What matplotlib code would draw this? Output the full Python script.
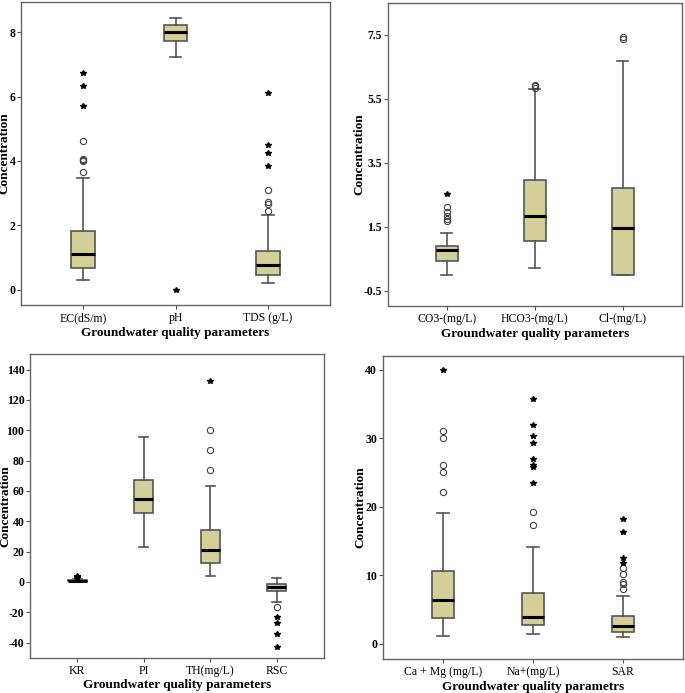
import numpy as np
import matplotlib
matplotlib.use("Agg")
import matplotlib.pyplot as plt

plt.rcParams['font.family'] = ['Liberation Serif', 'DejaVu Serif']

# --- Panel 1: EC, pH, TDS ---
p1_labels = ['EC(dS/m)', 'pH', 'TDS (g/L)']
p1_whislo = [0.29, 7.23, 0.19]
p1_q1 = [0.66, 7.72, 0.45]
p1_med = [1.11, 8.00, 0.75]
p1_q3 = [1.82, 8.21, 1.21]
p1_whishi = [3.48, 8.45, 2.32]
p1_circles = [[3.66, 3.99, 4.03, 4.07, 4.62], [], [2.45, 2.65, 2.72, 3.09]]
p1_stars = [[5.72, 6.32, 6.72], [0.0], [3.83, 4.24, 4.50, 6.11]]

# --- Panel 2: CO3, HCO3, Cl ---
p2_labels = ['CO3-(mg/L)', 'HCO3-(mg/L)', 'Cl-(mg/L)']
p2_whislo = [-0.01, 0.23, 0.0]
p2_q1 = [0.43, 1.05, 0.0]
p2_med = [0.78, 1.84, 1.46]
p2_q3 = [0.91, 2.96, 2.72]
p2_whishi = [1.32, 5.79, 6.69]
p2_circles = [[1.68, 1.76, 1.84, 1.96, 2.12], [5.84, 5.89, 5.94], [7.35, 7.42]]
p2_stars = [[2.52], [], []]

# --- Panel 3: KR, PI, TH, RSC ---
p3_labels = ['KR', 'PI', 'TH(mg/L)', 'RSC']
p3_whislo = [0.3, 22.9, 3.8, -13.4]
p3_q1 = [0.6, 45.5, 12.3, -6.1]
p3_med = [0.9, 54.5, 20.9, -3.3]
p3_q3 = [1.3, 67.1, 34.5, -1.3]
p3_whishi = [1.8, 95.8, 63.5, 2.5]
p3_circles = [[], [], [73.7, 86.9, 100.0], [-16.3]]
p3_stars = [[2.6, 3.1, 3.6], [], [132.7], [-22.9, -26.8, -34.3, -42.6]]

# --- Panel 4: Ca+Mg, Na, SAR ---
p4_labels = ['Ca + Mg (mg/L)', 'Na+(mg/L)', 'SAR']
p4_whislo = [1.17, 1.46, 0.97]
p4_q1 = [3.80, 2.73, 1.65]
p4_med = [6.37, 3.85, 2.53]
p4_q3 = [10.66, 7.35, 4.09]
p4_whishi = [19.12, 14.16, 6.91]
p4_circles = [[22.14, 25.06, 26.13, 30.07, 31.1],
              [17.32, 19.27],
              [7.93, 8.71, 8.95, 10.12, 11.09]]
p4_stars = [[40.0],
            [23.46, 25.74, 26.08, 26.91, 29.34, 30.32, 31.87, 35.72],
            [11.73, 12.46, 16.3, 18.25]]

BOX_FACE = '#d4cf98'
EDGE = '#555555'


def draw_panel(ax, labels, whislo, q1, med, q3, whishi, circles, stars,
               ylim, yticks, yticklabels, xlabel, ylab_x, width=0.25):
    stats = []
    for i, lab in enumerate(labels):
        stats.append(dict(label=lab, whislo=whislo[i], q1=q1[i], med=med[i],
                          q3=q3[i], whishi=whishi[i], fliers=[]))
    pos = np.arange(1, len(labels) + 1)
    ax.bxp(stats, positions=pos, widths=width, showfliers=False,
           patch_artist=True,
           boxprops=dict(facecolor=BOX_FACE, edgecolor=EDGE, linewidth=1.2),
           whiskerprops=dict(color=EDGE, linewidth=1.2),
           capprops=dict(color=EDGE, linewidth=1.2),
           medianprops=dict(color='black', linewidth=2.2))
    for i in range(len(labels)):
        if circles[i]:
            ax.plot([pos[i]] * len(circles[i]), circles[i], 'o', ms=4.5,
                    mfc='none', mec='#444444', mew=0.8)
        if stars[i]:
            ax.plot([pos[i]] * len(stars[i]), stars[i], '*', ms=4,
                    color='black')
    n = len(labels)
    margin = 0.67 if n == 3 else 0.71
    ax.set_xlim(1 - margin, n + margin)
    ax.set_ylim(*ylim)
    ax.set_yticks(yticks)
    ax.set_yticklabels(yticklabels)
    ax.set_xticks(pos)
    ax.set_xticklabels(labels)
    ax.tick_params(axis='x', labelsize=8.5, length=3, color=EDGE,
                   direction='out', pad=2)
    ax.tick_params(axis='y', labelsize=8.5, length=3, color=EDGE,
                   direction='out', pad=1)
    for lbl in ax.get_yticklabels():
        lbl.set_fontweight('bold')
    for sp in ax.spines.values():
        sp.set_color('#666666')
        sp.set_linewidth(1.0)
    ax.set_ylabel('Concentration', fontsize=9.5, fontweight='bold')
    ax.yaxis.set_label_coords(ylab_x, 0.5)
    ax.set_xlabel(xlabel, fontsize=9.5, fontweight='bold', labelpad=2)
    ax.set_facecolor('white')


fig = plt.figure(figsize=(6.85, 6.93), dpi=100)

ax1 = fig.add_axes([0.0307, 0.5599, 0.4511, 0.4372])
draw_panel(ax1, p1_labels, p1_whislo, p1_q1, p1_med, p1_q3, p1_whishi,
           p1_circles, p1_stars, (-0.48, 8.94), [0, 2, 4, 6, 8],
           ['0', '2', '4', '6', '8'], 'Groundwater quality parameters',
           ylab_x=-0.034)

ax2 = fig.add_axes([0.566, 0.5584, 0.4292, 0.4373])
draw_panel(ax2, p2_labels, p2_whislo, p2_q1, p2_med, p2_q3, p2_whishi,
           p2_circles, p2_stars, (-0.97, 8.49), [-0.5, 1.5, 3.5, 5.5, 7.5],
           ['-0.5', '1.5', '3.5', '5.5', '7.5'], 'Groundwater quality parameters',
           ylab_x=-0.0755)

ax3 = fig.add_axes([0.0438, 0.0509, 0.4292, 0.4378])
draw_panel(ax3, p3_labels, p3_whislo, p3_q1, p3_med, p3_q3, p3_whishi,
           p3_circles, p3_stars, (-50, 150), list(range(-40, 141, 20)),
           [str(v) for v in range(-40, 141, 20)],
           'Groundwater quality parameters', ylab_x=-0.063, width=0.28)

ax4 = fig.add_axes([0.5587, 0.0491, 0.4388, 0.4376])
draw_panel(ax4, p4_labels, p4_whislo, p4_q1, p4_med, p4_q3, p4_whishi,
           p4_circles, p4_stars, (-2.24, 42.04), [0, 10, 20, 30, 40],
           ['0', '10', '20', '30', '40'], 'Groundwater quality parametrs',
           ylab_x=-0.055)

fig.savefig('out.png', dpi=100, facecolor='white')
